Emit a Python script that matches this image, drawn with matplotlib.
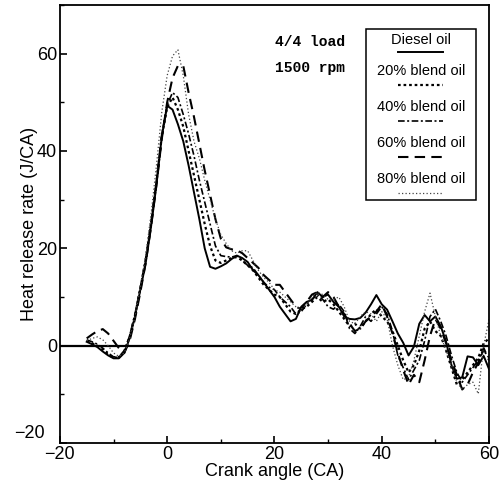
import numpy as np
import matplotlib
matplotlib.use("Agg")
import matplotlib.pyplot as plt
from matplotlib.patches import Rectangle
from matplotlib.ticker import MultipleLocator, FuncFormatter

plt.rcParams['font.family'] = ['Liberation Sans', 'DejaVu Sans']

# crank angle grid (CA)
crank = np.arange(-15, 61)

diesel = [0.8, 0.3, -0.3, -1.2, -2.0, -2.6, -2.6, -1.5, 1.5, 6.0,
          11.5, 17.0, 24.5, 33.0, 43.0, 49.3, 48.5, 45.5, 42.0, 37.0,
          31.5, 26.0, 20.0, 16.2, 15.8, 16.3, 16.9, 17.8, 18.5, 18.0,
          17.2, 15.5, 14.5, 13.0, 11.5, 10.0, 8.0, 6.5, 5.0, 5.5,
          8.0, 9.0, 9.4, 11.0, 10.0, 10.5, 9.0, 8.0, 6.0, 5.5,
          5.4, 5.7, 6.8, 8.5, 10.4, 8.5, 7.4, 5.0, 2.5, 0.6,
          -2.0, -0.2, 4.5, 6.3, 5.0, 6.0, 4.0, 0.8, -4.0, -6.8,
          -6.5, -2.2, -2.4, -4.0, -2.1, -4.8]

blend20 = [1.0, 0.5, 0.0, -0.8, -1.8, -2.5, -2.4, -1.2, 1.8, 6.2,
           11.8, 17.5, 25.0, 33.5, 43.0, 49.0, 51.0, 48.5, 45.0, 40.0,
           35.0, 30.0, 25.0, 20.5, 17.5, 17.0, 17.5, 18.0, 18.2, 17.5,
           16.5, 15.5, 14.0, 12.5, 11.5, 10.5, 10.0, 8.5, 7.0, 6.5,
           7.5, 8.0, 9.0, 10.0, 9.0, 9.5, 8.5, 7.0, 5.5, 4.0,
           4.5, 3.5, 5.0, 6.5, 7.5, 6.0, 5.0, 3.0, 0.0, -3.0,
           -5.5, -4.0, -1.0, 3.5, 5.0, 3.0, 2.0, -1.0, -4.5, -8.0,
           -7.0, -5.5, -4.0, -2.5, 0.5, 1.5]

blend40 = [1.2, 0.8, 0.3, -0.5, -1.5, -2.3, -2.3, -1.0, 2.0, 6.5,
           12.0, 18.0, 25.5, 34.0, 43.5, 49.5, 52.0, 51.0, 47.5, 43.5,
           39.0, 34.0, 29.5, 25.0, 20.5, 18.5, 18.3, 18.2, 18.5, 17.5,
           16.5, 16.0, 14.5, 13.0, 12.0, 11.5, 10.0, 9.0, 8.0, 6.5,
           7.0, 8.5, 9.5, 10.5, 9.5, 8.0, 7.5, 8.5, 7.0, 3.5,
           2.5, 4.0, 6.0, 5.0, 6.5, 8.0, 6.5, 3.0, -2.0, -4.5,
           -7.0, -5.0, -3.0, 1.0, 6.0, 7.5, 5.0, 2.0, -2.0, -5.5,
           -7.5, -6.0, -4.5, -3.0, -1.0, -2.5]

blend60 = [1.5, 2.3, 3.0, 3.4, 2.5, 1.0, -0.5, -1.5, 1.0, 5.5,
           11.0, 17.0, 24.5, 33.0, 42.5, 50.0, 55.0, 57.5, 57.5, 52.0,
           47.0, 41.5, 36.0, 31.0, 26.0, 22.0, 20.2, 19.8, 19.6, 19.0,
           18.0, 17.0, 16.0, 14.5, 13.5, 12.5, 12.5, 11.0, 9.5, 8.0,
           7.5, 9.0, 10.5, 11.0, 10.0, 11.0, 10.0, 8.0, 6.5, 4.5,
           3.0, 3.5, 5.0, 6.0, 7.0, 8.5, 6.0, 2.5, -1.5, -5.0,
           -8.0, -6.0, -7.5, -3.0, 2.0, 5.5, 3.5, 0.5, -3.0, -6.0,
           -9.0, -8.0, -5.5, -3.5, -0.5, -3.0]

blend80 = [1.0, 1.5, 1.8, 1.2, 0.0, -1.5, -2.2, -1.5, 1.5, 6.0,
           12.0, 18.5, 27.0, 37.0, 48.0, 55.5, 59.5, 60.8, 55.5, 47.5,
           42.0, 38.5, 34.0, 30.0, 26.0, 22.8, 21.0, 19.5, 19.0, 19.5,
           19.5, 17.5, 15.5, 14.0, 13.0, 11.5, 11.0, 10.0, 9.0, 8.0,
           7.5, 8.5, 10.0, 11.0, 10.5, 9.5, 9.5, 10.0, 8.0, 5.0,
           4.5, 6.0, 7.0, 6.5, 5.0, 7.0, 5.5, 0.0, -4.0, -7.0,
           -6.5, -3.0, 2.0, 7.0, 10.8, 6.0, 2.0, -1.0, -4.0, -7.5,
           -9.0, -8.0, -7.5, -9.9, 0.0, 5.4]

labels = ["Diesel oil", "20% blend oil", "40% blend oil", "60% blend oil", "80% blend oil"]
series = [diesel, blend20, blend40, blend60, blend80]
styles = [dict(ls='-', lw=1.4, color='black'),
          dict(ls=(0, (1.2, 1.3)), lw=1.6, color='black'),
          dict(ls=(0, (4, 1.5, 1.2, 1.5)), lw=1.2, color='black'),
          dict(ls=(0, (5, 3)), lw=1.5, color='black'),
          dict(ls=(0, (1, 1.8)), lw=0.9, color='#444444')]

fig = plt.figure(figsize=(4.99, 4.95), dpi=100)
ax = fig.add_axes([0.120, 0.105, 0.860, 0.885])

ax.axhline(0, color='black', lw=1.6)
for y, st in zip(series, styles):
    ax.plot(crank, y, **st)

ax.set_xlim(-20, 60)
ax.set_ylim(-20, 70)
ax.xaxis.set_major_locator(MultipleLocator(20))
ax.xaxis.set_minor_locator(MultipleLocator(10))
ax.yaxis.set_major_locator(MultipleLocator(20))
ax.yaxis.set_minor_locator(MultipleLocator(10))
# bottom y label is drawn separately, a bit higher, so it clears the x one
ax.yaxis.set_major_formatter(FuncFormatter(lambda v, p: "" if v < -10 else f"{v:.0f}"))
ax.tick_params(which='major', direction='in', length=5, width=1.2, labelsize=13, pad=2)
ax.tick_params(which='minor', direction='in', length=3, width=1)
for sp in ax.spines.values():
    sp.set_linewidth(1.3)
ax.set_xlabel("Crank angle (CA)", fontsize=13, labelpad=0)
ax.set_ylabel("Heat release rate (J/CA)", fontsize=13, labelpad=-1)
ax.text(-0.035, -18.0, "\u221220", transform=ax.get_yaxis_transform(),
        ha='right', va='center', fontsize=13)

# condition note
ax.text(0.501, 0.916, "4/4 load", transform=ax.transAxes, family='Liberation Mono',
        fontweight='bold', fontsize=10.5, va='center')
ax.text(0.501, 0.856, "1500 rpm", transform=ax.transAxes, family='Liberation Mono',
        fontweight='bold', fontsize=10.5, va='center')

# boxed legend with line samples under each label
ax.add_patch(Rectangle((0.713, 0.555), 0.257, 0.39, transform=ax.transAxes,
                       fill=False, lw=1.1, ec='black'))
text_y = [0.921, 0.849, 0.767, 0.684, 0.602]
line_y = [0.893, 0.818, 0.736, 0.654, 0.571]
for lab, st, ty, ly in zip(labels, styles, text_y, line_y):
    ax.text(0.841, ty, lab, transform=ax.transAxes, ha='center', va='center', fontsize=10.5)
    ax.plot([0.788, 0.893], [ly, ly], transform=ax.transAxes, **st)

fig.savefig("out.png", dpi=100)
